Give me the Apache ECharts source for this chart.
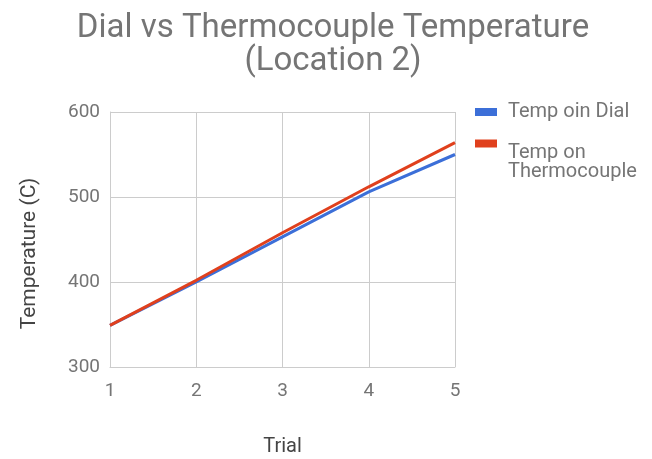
<!DOCTYPE html>
<html><head><meta charset="utf-8">
<script src="https://cdn.jsdelivr.net/npm/echarts@6/dist/echarts.min.js"></script>
<style>html,body{margin:0;padding:0;background:#fff}#c{width:652px;height:459px}</style>
</head><body><div id="c"></div>
<script>
const trials = [1, 2, 3, 4, 5];
const dialTemps = [349, 400, 453, 506, 550];
const thermoTemps = [349, 402, 458, 512, 564];
const yTicks = [300, 400, 500, 600];
const seriesNames = ['Temp oin Dial', 'Temp on\nThermocouple'];

const chart = echarts.init(document.getElementById('c'), null, {renderer: 'canvas'});
const font = 'Roboto';
const legendBase = {
  orient: 'vertical', left: 470, itemWidth: 22, itemHeight: 8, icon: 'rect',
  textStyle: {fontFamily: font, fontSize: 20, color: '#757575', lineHeight: 19, padding: [0, 0, 0, 6]}
};
chart.setOption({
  animation: false,
  backgroundColor: '#fff',
  title: {
    text: 'Dial vs Thermocouple Temperature\n(Location 2)',
    left: 328, top: 7, textAlign: 'center',
    textStyle: {fontFamily: font, fontSize: 33, fontWeight: 'normal', color: '#757575', lineHeight: 33}
  },
  legend: [
    Object.assign({}, legendBase, {top: 97, data: [seriesNames[0]]}),
    Object.assign({}, legendBase, {top: 100, data: [seriesNames[1]],
      formatter: name => '\n\n' + name})
  ],
  grid: {left: 110, right: 197, top: 112, bottom: 92, containLabel: false, outerBoundsMode: 'none'},
  xAxis: {
    type: 'value', min: 1, max: 5, interval: 1,
    name: 'Trial', nameLocation: 'middle', nameGap: 70,
    nameTextStyle: {fontFamily: font, fontSize: 20, color: '#444'},
    axisLine: {show: true, lineStyle: {color: '#cccccc'}},
    axisTick: {show: false},
    splitLine: {show: true, lineStyle: {color: '#cccccc'}},
    axisLabel: {fontFamily: font, fontSize: 19, color: '#757575', margin: 15}
  },
  yAxis: {
    type: 'value', min: yTicks[0], max: yTicks[yTicks.length - 1], interval: 100,
    name: 'Temperature (C)', nameLocation: 'middle', nameGap: 70,
    nameTextStyle: {fontFamily: font, fontSize: 21, color: '#444', padding: [0, 28, 0, 0]},
    axisLine: {show: true, lineStyle: {color: '#cccccc'}},
    axisTick: {show: false},
    splitLine: {show: true, lineStyle: {color: '#cccccc'}},
    axisLabel: {fontFamily: font, fontSize: 19, color: '#757575', margin: 10}
  },
  series: [
    {name: seriesNames[0], type: 'line', data: trials.map((t, i) => [t, dialTemps[i]]),
     showSymbol: false, lineStyle: {width: 3, color: '#3c6fd8'}, itemStyle: {color: '#3c6fd8'}},
    {name: seriesNames[1], type: 'line', data: trials.map((t, i) => [t, thermoTemps[i]]),
     showSymbol: false, lineStyle: {width: 3, color: '#e0401d'}, itemStyle: {color: '#e0401d'}}
  ]
});
</script></body></html>
